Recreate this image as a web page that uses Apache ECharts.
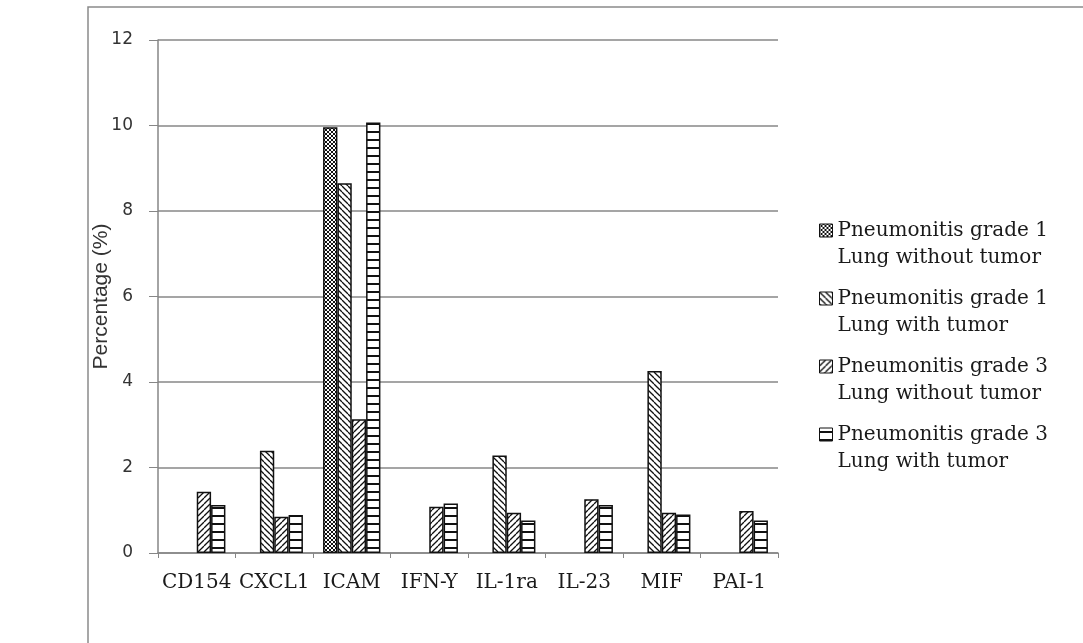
<!DOCTYPE html>
<html>
<head>
<meta charset="utf-8">
<title>Cytokine percentages</title>
<script src="https://cdn.jsdelivr.net/npm/echarts@6/dist/echarts.min.js"></script>
<style>
  html, body { margin: 0; padding: 0; background: #fff; }
  #chart { width: 1083px; height: 643px; }
</style>
</head>
<body>
<div id="chart"></div>
<script>
// Cytokine categories on the x axis
const categories = ['CD154', 'CXCL1', 'ICAM', 'IFN-Y', 'IL-1ra', 'IL-23', 'MIF', 'PAI-1'];

// Percentage values per group (null = no bar)
const grade1NoTumor   = [null, null, 9.96, null, null, null, null, null];
const grade1Tumor     = [null, 2.39, 8.65, null, 2.28, null, 4.26, null];
const grade3NoTumor   = [1.43, 0.85, 3.13, 1.08, 0.94, 1.26, 0.94, 0.98];
const grade3Tumor     = [1.12, 0.89, 10.07, 1.16, 0.76, 1.12, 0.90, 0.76];

const seriesNames = [
  'Pneumonitis grade 1\nLung without tumor',
  'Pneumonitis grade 1\nLung with tumor',
  'Pneumonitis grade 3\nLung without tumor',
  'Pneumonitis grade 3\nLung with tumor'
];

const yTicks = [0, 2, 4, 6, 8, 10, 12];

// Hatch fills drawn on small tiles
function tile(size, draw) {
  const c = document.createElement('canvas');
  c.width = size; c.height = size;
  const ctx = c.getContext('2d');
  ctx.fillStyle = '#fff';
  ctx.fillRect(0, 0, size, size);
  ctx.strokeStyle = '#111';
  draw(ctx, size);
  return { image: c, repeat: 'repeat' };
}
const crossHatch = tile(4, (ctx, s) => {
  ctx.lineWidth = 1;
  for (const k of [-s, 0, s]) {
    ctx.beginPath(); ctx.moveTo(k, 0); ctx.lineTo(k + s, s); ctx.stroke();
    ctx.beginPath(); ctx.moveTo(k, s); ctx.lineTo(k + s, 0); ctx.stroke();
  }
});
const backSlash = tile(6, (ctx, s) => {
  ctx.lineWidth = 1.3;
  for (const k of [-s, 0, s]) {
    ctx.beginPath(); ctx.moveTo(k, 0); ctx.lineTo(k + s, s); ctx.stroke();
  }
});
const fwdSlash = tile(6, (ctx, s) => {
  ctx.lineWidth = 1.3;
  for (const k of [-s, 0, s]) {
    ctx.beginPath(); ctx.moveTo(k, s); ctx.lineTo(k + s, 0); ctx.stroke();
  }
});
const horizLines = tile(8, (ctx, s) => {
  ctx.fillStyle = '#111';
  ctx.fillRect(0, 3, s, 2);
});

const fills = [crossHatch, backSlash, fwdSlash, horizLines];
const values = [grade1NoTumor, grade1Tumor, grade3NoTumor, grade3Tumor];

const chart = echarts.init(document.getElementById('chart'), null, { renderer: 'canvas' });

chart.setOption({
  animation: false,
  backgroundColor: '#fff',
  graphic: [{
    type: 'rect',
    shape: { x: 88, y: 7, width: 1100, height: 700 },
    style: { fill: 'none', stroke: '#8a8a8a', lineWidth: 1.5 },
    silent: true
  }],
  grid: { left: 158, right: 305, top: 40, bottom: 90, containLabel: false },
  legend: {
    orient: 'vertical',
    left: 814,
    top: 185,
    itemWidth: 13,
    itemHeight: 13,
    itemGap: -13,
    icon: 'rect',
    itemStyle: { borderColor: '#111', borderWidth: 1 },
    // blank leading line keeps the swatch level with the first text line
    formatter: name => ' \n' + name,
    textStyle: {
      fontFamily: 'DejaVu Serif',
      fontSize: 20,
      color: '#1a1a1a',
      lineHeight: 27
    },
    data: seriesNames
  },
  xAxis: {
    type: 'category',
    data: categories,
    axisLine: { lineStyle: { color: '#868686', width: 1.5 } },
    axisTick: { show: true, length: 5, inside: false, lineStyle: { color: '#868686' } },
    axisLabel: {
      fontFamily: 'DejaVu Serif',
      fontSize: 20,
      color: '#1a1a1a',
      margin: 20,
      interval: 0
    }
  },
  yAxis: {
    type: 'value',
    min: yTicks[0],
    max: yTicks[yTicks.length - 1],
    interval: 2,
    name: 'Percentage (%)',
    nameLocation: 'middle',
    nameGap: 46,
    nameMoveOverlap: false,
    nameTextStyle: { fontFamily: 'Liberation Sans', fontSize: 21, color: '#333' },
    axisLine: { show: true, lineStyle: { color: '#868686', width: 1.5 } },
    axisTick: { show: true, length: 9, lineStyle: { color: '#868686' } },
    axisLabel: {
      fontFamily: 'DejaVu Sans',
      fontSize: 17,
      color: '#333',
      margin: 25
    },
    splitLine: { lineStyle: { color: '#878787', width: 1.5 } }
  },
  series: values.map((v, i) => ({
    name: seriesNames[i],
    type: 'bar',
    data: v,
    barGap: '0%',
    barCategoryGap: '26%',
    itemStyle: { color: fills[i], borderColor: '#111', borderWidth: 1.5 }
  }))
});
</script>
</body>
</html>
